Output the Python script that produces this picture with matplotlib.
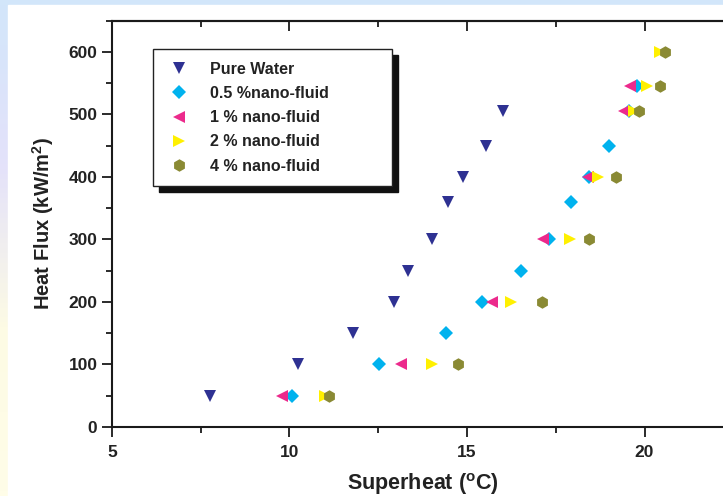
import matplotlib
matplotlib.use("Agg")
import matplotlib.pyplot as plt
import numpy as np
from matplotlib.colors import LinearSegmentedColormap

plt.rcParams["font.family"] = ["Liberation Sans", "DejaVu Sans"]
plt.rcParams["font.weight"] = "bold"
plt.rcParams["mathtext.fontset"] = "custom"
plt.rcParams["mathtext.rm"] = "Liberation Sans:bold"
plt.rcParams["mathtext.bf"] = "Liberation Sans:bold"

# heat flux levels (kW/m2)
flux_water = [50, 100, 150, 200, 250, 300, 360, 400, 450, 505]
flux_05 = [50, 100, 150, 200, 250, 300, 360, 400, 450, 505, 545]
flux_1 = [50, 100, 200, 300, 400, 505, 545]
flux_2 = [50, 100, 200, 300, 400, 505, 545, 600]
flux_4 = [50, 100, 200, 300, 400, 505, 545, 600]

# superheat (C)
sh_water = [7.75, 10.25, 11.8, 12.93, 13.35, 14.0, 14.47, 14.9, 15.53, 16.0]
sh_05 = [10.08, 12.53, 14.42, 15.41, 16.51, 17.3, 17.92, 18.45, 18.99, 19.55, 19.8]
sh_1 = [9.8, 13.15, 15.7, 17.13, 18.4, 19.42, 19.6]
sh_2 = [11.0, 14.02, 16.25, 17.9, 18.68, 19.7, 20.06, 20.45]
sh_4 = [11.1, 14.75, 17.1, 18.45, 19.2, 19.85, 20.45, 20.57]

labels = ["Pure Water", "0.5 %nano-fluid", "1 % nano-fluid", "2 % nano-fluid", "4 % nano-fluid"]

fig = plt.figure(figsize=(7.23, 4.96), dpi=100)

# slide background strips (left and top)
bg = fig.add_axes([0, 0, 1, 1], zorder=-10)
grad = np.linspace(0, 1, 100)[:, None]
slide = LinearSegmentedColormap.from_list("slide", ["#d2e6fa", "#e4e2fa", "#fdfbe4", "#fffde8"])
bg.imshow(grad, cmap=slide, extent=[0, 1, 0, 1], aspect="auto", origin="upper")
bg.add_patch(plt.Rectangle((0.011, 0), 0.989, 0.99, color="white", transform=bg.transAxes))
bg.set_xlim(0, 1)
bg.set_ylim(0, 1)
bg.axis("off")

ax = fig.add_axes([0.1549, 0.1391, 0.8593, 0.8192])
ax.set_facecolor("none")

ax.plot(sh_water, flux_water, "v", color="#2e3192", ms=9, mew=0, label=labels[0])
ax.plot(sh_05, flux_05, "D", color="#00b2ee", ms=7, mew=0, label=labels[1])
ax.plot(sh_1, flux_1, "<", color="#ec2a8c", ms=9, mew=0, label=labels[2])
ax.plot(sh_2, flux_2, ">", color="#fff000", ms=9, mew=0, label=labels[3])
ax.plot(sh_4, flux_4, "h", color="#8a8a34", ms=9, mew=0, label=labels[4])

ax.set_xlim(5, 22.5)
ax.set_ylim(0, 650)
ax.set_xticks([5, 10, 15, 20])
ax.set_xticks([7.5, 12.5, 17.5], minor=True)
ax.set_yticks(np.arange(0, 601, 100))
ax.set_yticks(np.arange(50, 651, 100), minor=True)

for s in ax.spines.values():
    s.set_linewidth(1.5)
    s.set_color("#1a1a1a")

ax.tick_params(axis="both", which="major", labelsize=12.5, length=7, width=1.3,
               color="#1a1a1a", labelcolor="#222222")
ax.tick_params(axis="both", which="minor", length=4, width=1.3, color="#1a1a1a")
ax.tick_params(axis="x", pad=6)

# top ticks pointing inward, no labels
top = ax.secondary_xaxis("top")
top.set_xticks([5, 10, 15, 20])
top.set_xticks([7.5, 12.5, 17.5], minor=True)
top.tick_params(axis="x", which="major", direction="in", length=7, width=1.3,
                color="#1a1a1a", labeltop=False)
top.tick_params(axis="x", which="minor", direction="in", length=4, width=1.3, color="#1a1a1a")
top.spines["top"].set_linewidth(1.5)
top.spines["top"].set_color("#1a1a1a")

ax.set_xlabel(r"Superheat ($^{\mathrm{o}}$C)", fontsize=15.5, fontweight="bold", color="#222222", labelpad=8)
ax.set_ylabel(r"Heat Flux (kW/m$^{\mathrm{2}}$)", fontsize=14.5, fontweight="bold", color="#222222", labelpad=9)

leg = ax.legend(loc="upper left", bbox_to_anchor=(0.066, 0.5, 0.385, 0.43), mode="expand",
                fancybox=False, shadow={"color": "#111111", "alpha": 1, "ox": 4.5, "oy": -4.5},
                prop={"size": 11.5, "weight": "bold"}, handletextpad=1.1, labelspacing=0.58,
                borderpad=0.78, borderaxespad=0, handlelength=1.7, framealpha=1)
leg.get_frame().set_edgecolor("#222222")
leg.get_frame().set_linewidth(1.0)
for txt in leg.get_texts():
    txt.set_color("#222222")

fig.savefig("out.png", dpi=100)
